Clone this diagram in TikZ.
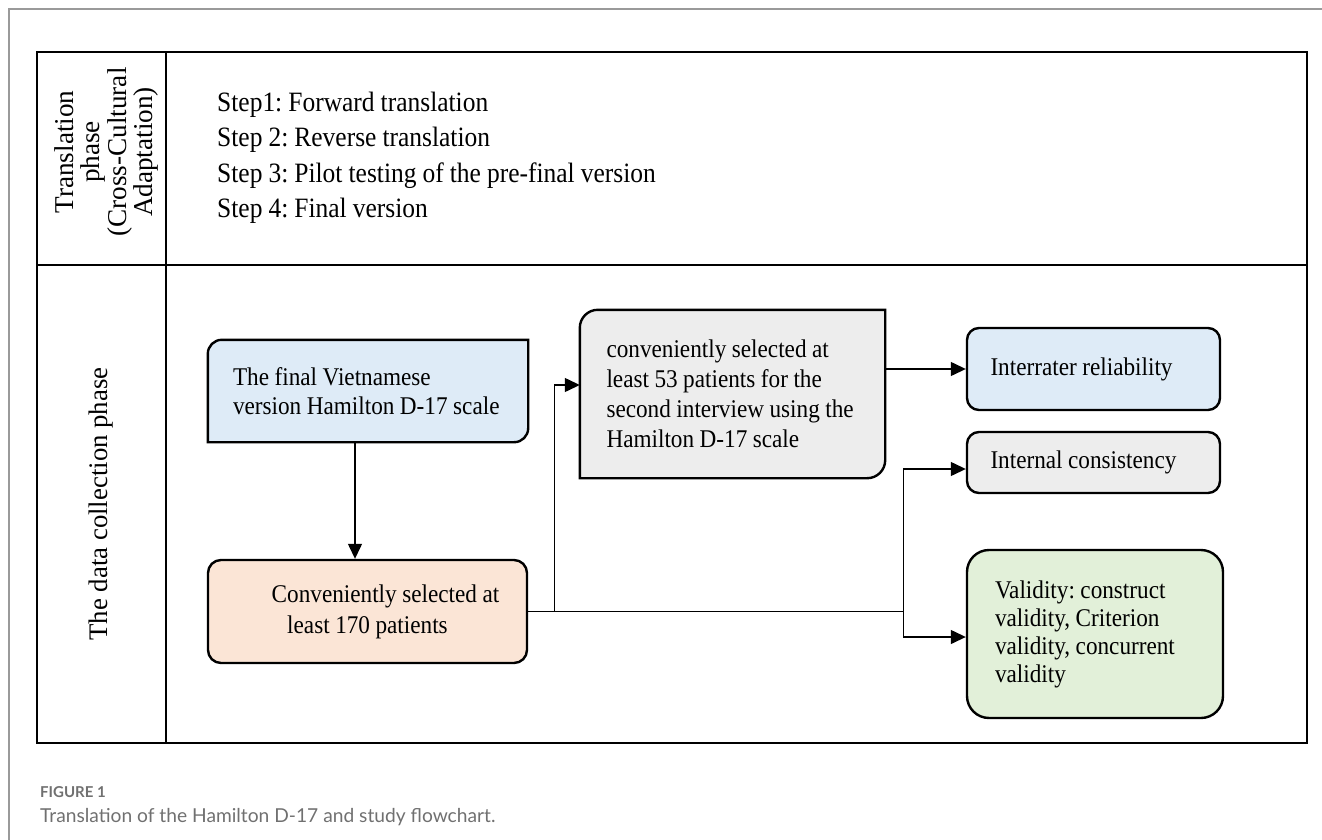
\documentclass[tikz,border=0pt]{standalone}
\usepackage{fontspec}
\setmainfont{Liberation Serif}[FakeStretch=0.91,WordSpace=0.95]
\newfontfamily\rotfont{Liberation Serif}
\newfontfamily\capfont{Lato}
\usetikzlibrary{arrows.meta,backgrounds,calc}
\definecolor{cblue}{HTML}{DEEBF7}
\definecolor{corange}{HTML}{FBE5D6}
\definecolor{cgray}{HTML}{EDEDED}
\definecolor{cgreen}{HTML}{E2F0D9}
\definecolor{framegray}{HTML}{9A9A9A}
\definecolor{capgray}{HTML}{707070}
\frenchspacing
\newcommand\oneline[1]{\mbox{\spaceskip=0pt\xspaceskip=0pt\relax#1}}
\tikzset{
  boxbase/.style={inner sep=0pt, align=left, font=\fontsize{25.5}{29.5}\selectfont},
  boxline/.style={draw=black, line width=2.4pt},
  conn/.style={draw=black, line width=1.3pt},
  arrowconn/.style={conn, -{Triangle[length=15pt,width=14pt]}},
  tableline/.style={draw=black, line width=2.5pt},
}
\begin{document}
\begin{tikzpicture}[x=1pt,y=-1pt]
\useasboundingbox (0,0) rectangle (1322,840);
% outer figure frame
\draw[line width=2pt, draw=framegray] (9,840) -- (9,9) -- (1322,9);
% table
\draw[tableline] (37,52) rectangle (1307,743);
\draw[tableline] (166,52) -- (166,743);
\draw[tableline] (37,265) -- (1307,265);
% phase labels
\node[rotate=90, align=center, inner sep=0pt, font=\rotfont\fontsize{27.2}{26.5}\selectfont] (ph1) at (106.5,152)
  {Translation\\phase\\(Cross-Cultural\\Adaptation)};
\node[rotate=90, inner sep=0pt, font=\rotfont\fontsize{26.8}{30}\selectfont] (ph2) at (101.5,504)
  {The data collection phase};
% steps
\node[anchor=west, align=left, inner sep=0pt, font=\fontsize{28}{35.5}\selectfont] (steps) at (217,158)
  {Step1: Forward translation\\Step 2: Reverse translation\\Step 3: Pilot testing of the pre-final version\\Step 4: Final version};
% boxes
\node[boxbase, minimum width=320pt, minimum height=102pt, text width=270pt] (b1) at (368,391)
  {\oneline{The final Vietnamese}\\\oneline{version Hamilton D-17 scale}};
\node[boxbase, boxline, fill=corange, rounded corners=13pt, minimum width=319pt, minimum height=103pt,
  align=center, font=\fontsize{25.5}{31}\selectfont] (b2) at (367.5,611.5)
  {\hspace*{36pt}Conveniently selected at\\least 170 patients};
\node[boxbase, minimum width=305pt, minimum height=168pt, text width=252pt, font=\fontsize{25.5}{30}\selectfont] (b3) at (732.5,394)
  {\oneline{conveniently selected at}\\\oneline{least 53 patients for the}\\\oneline{second interview using the}\\\oneline{Hamilton D-17 scale}};
\node[boxbase, boxline, fill=cblue, rounded corners=12pt, minimum width=253pt, minimum height=82pt, text width=206pt] (b4) at (1093.5,369)
  {\oneline{Interrater reliability}};
\node[boxbase, boxline, fill=cgray, rounded corners=12pt, minimum width=253pt, minimum height=61pt, text width=206pt] (b5) at (1093.5,462.5)
  {\oneline{Internal consistency}};
\node[boxbase, boxline, fill=cgreen, rounded corners=22pt, minimum width=256pt, minimum height=168pt, text width=200pt, font=\fontsize{25.5}{28}\selectfont] (b6) at (1095,634)
  {\oneline{Validity: construct}\\\oneline{validity, Criterion}\\\oneline{validity, concurrent}\\\oneline{validity}};
\begin{scope}[on background layer]
  \path[boxline, fill=cblue] (b1.south west) -- ([yshift=-14pt]b1.north west)
    arc[start angle=180, end angle=90, radius=14pt] -- (b1.north east)
    -- ([yshift=14pt]b1.south east) arc[start angle=0, end angle=-90, radius=14pt] -- cycle;
  \path[boxline, fill=cgray] (b3.south west) -- ([yshift=-18pt]b3.north west)
    arc[start angle=180, end angle=90, radius=18pt] -- (b3.north east)
    -- ([yshift=18pt]b3.south east) arc[start angle=0, end angle=-90, radius=18pt] -- cycle;
\end{scope}
% connectors
\coordinate (j1) at ($(b2.east)+(26,0)$);
\coordinate (j2) at ($(b2.east)+(375,0)$);
\draw[arrowconn] ([xshift=-13pt]b1.south) -- ([xshift=-13pt]b1.south |- b2.north);
\draw[conn] (b2.east) -- (j2);
\draw[arrowconn] (j1) |- ([yshift=9pt]b3.west);
\draw[arrowconn] (b3.east |- b4.west) -- (b4.west);
\draw[arrowconn] (j2) |- ([yshift=-6.5pt]b5.west);
\draw[arrowconn] (j2) |- ([yshift=-3pt]b6.west);
% caption
\node[anchor=west, inner sep=0pt, text=capgray, font={\capfont\bfseries\fontsize{15}{18}\selectfont}] (fig) at (40,792) {FIGURE 1};
\node[anchor=west, inner sep=0pt, text=capgray, font={\capfont\fontsize{19.2}{23}\selectfont}] (cap) at (40,817)
  {Translation of the Hamilton D-17 and study flowchart.};
\end{tikzpicture}
\end{document}
